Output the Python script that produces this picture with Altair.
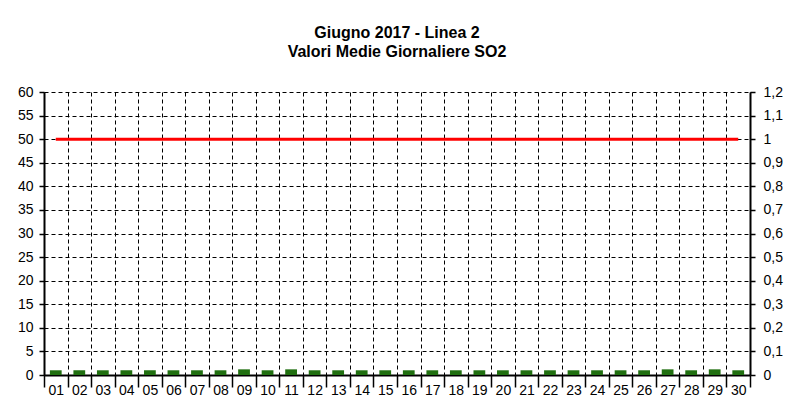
import altair as alt
import pandas as pd

days = [f"{i:02d}" for i in range(1, 31)]
so2 = [1.0, 1.0, 1.0, 1.0, 1.0, 1.0, 1.0, 1.0, 1.2, 1.0,
       1.2, 1.0, 1.0, 1.0, 1.0, 1.0, 1.0, 1.0, 1.0, 1.0,
       1.0, 1.0, 1.0, 1.0, 1.0, 1.0, 1.2, 1.0, 1.2, 1.0]
limit = [50] * 30
right_ticks = [0, 0.1, 0.2, 0.3, 0.4, 0.5, 0.6, 0.7, 0.8, 0.9, 1.0, 1.1, 1.2]
left_ticks = list(range(0, 61, 5))

df = pd.DataFrame({"day": days, "so2": so2, "limit": limit})

FONT = "Liberation Sans"

x = alt.X(
    "day:N",
    sort=days,
    scale=alt.Scale(paddingInner=0, paddingOuter=0),
    axis=alt.Axis(
        title=None, labelAngle=0, tickBand="extent", grid=True,
        gridDash=[4, 3], gridColor="black", gridOpacity=1, gridWidth=1,
        tickSize=12, tickColor="black", tickWidth=1.5,
        domainColor="black", domainWidth=2,
        labelPadding=-4, labelFontSize=14, labelFont=FONT, labelColor="black",
    ),
)

left_axis = alt.Axis(
    values=left_ticks, title=None, grid=True, gridDash=[4, 3],
    gridColor="black", gridOpacity=1, gridWidth=1,
    tickSize=5, tickColor="black", tickWidth=1.5,
    domainColor="black", domainWidth=2, labelOverlap=False,
    labelFontSize=14, labelFont=FONT, labelColor="black", labelPadding=6,
)
left_scale = alt.Scale(domain=[0, 60], nice=False)

bars = alt.Chart(df).mark_bar(color="#206f10", width={"band": 0.5}).encode(
    x=x,
    y=alt.Y("so2:Q", scale=left_scale, axis=left_axis),
)

line = alt.Chart(df).mark_line(color="#ff0000", strokeWidth=3).encode(
    x=x,
    y=alt.Y("limit:Q", scale=left_scale, axis=left_axis),
)

right_df = pd.DataFrame({"v": right_ticks})
right = alt.Chart(right_df).mark_point(opacity=0).encode(
    y=alt.Y(
        "v:Q",
        scale=alt.Scale(domain=[0, 1.2], nice=False),
        axis=alt.Axis(
            orient="right", values=right_ticks, title=None, grid=False,
            tickSize=5, tickColor="black", tickWidth=1.5,
            domainColor="black", domainWidth=2, labelOverlap=False,
            labelFontSize=14, labelFont=FONT, labelColor="black", labelPadding=8,
            labelExpr="replace(format(datum.value, '.2~f'), '.', ',')",
        ),
    ),
)

left_layer = alt.layer(bars, line)
chart = alt.layer(left_layer, right).resolve_scale(y="independent").properties(
    width=706,
    height=283,
    autosize=alt.AutoSizeParams(type="none"),
    padding={"left": 36, "top": 84, "right": 40, "bottom": 31},
    title=alt.Title(
        ["Giugno 2017 - Linea 2", "Valori Medie Giornaliere SO2"],
        font=FONT, fontSize=16, fontWeight="bold", color="black",
        lineHeight=19, anchor="middle", offset=25,
    ),
).configure_view(strokeWidth=0)

chart.save("out.html", embed_options={"renderer": "svg", "actions": False})
